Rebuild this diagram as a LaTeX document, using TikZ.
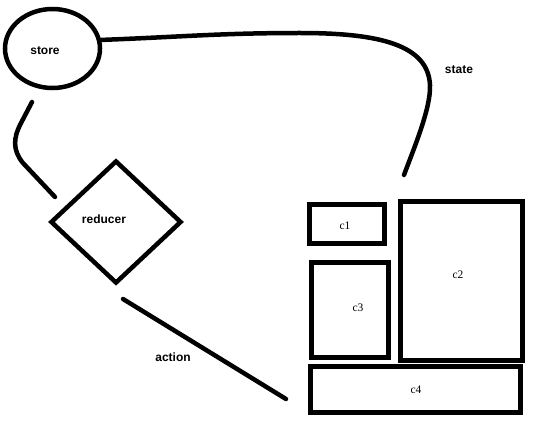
\documentclass[tikz,border=0pt]{standalone}
\usepackage{fontspec}
\setmainfont{Liberation Sans}
\newfontfamily\cfont{Liberation Serif}
\usetikzlibrary{shapes.geometric}
\tikzset{
  thick stroke/.style={line width=4.5pt},
  conn/.style={line width=4.5pt, line cap=round, line join=round},
  comp/.style={draw, line width=5pt, inner sep=0pt},
  lbl/.style={font=\bfseries\fontsize{12}{14}\selectfont, inner sep=0pt},
  clbl/.style={font=\cfont\fontsize{11.5}{13}\selectfont, inner sep=0pt},
}
\begin{document}
\begin{tikzpicture}[x=1pt,y=-1pt]
\useasboundingbox (0,0) rectangle (536,441);
% store
\node[ellipse, draw, thick stroke, minimum width=95pt, minimum height=79pt, inner sep=0pt] (store) at (52.5,48.5) {};
\node[lbl] (storet) at (45,51) {store};
% reducer
\node[diamond, draw, thick stroke, minimum width=131pt, minimum height=123pt, inner sep=0pt, aspect=1.06] (reducer) at (116,222) {};
\node[lbl] (reducert) at (104,219) {reducer};
% components
\draw[comp] (309.5,204.5) rectangle (384.5,243.5);
\node[clbl] (c1t) at (345,226) {c1};
\draw[comp] (400.5,201.5) rectangle (522.5,360.5);
\node[clbl] (c2t) at (458,275) {c2};
\draw[comp] (311.5,262.5) rectangle (388.5,357.5);
\node[clbl] (c3t) at (358,308) {c3};
\draw[comp] (310.5,366.5) rectangle (520.5,412.5);
\node[clbl] (c4t) at (416,390) {c4};
% connector end points
\coordinate (sA) at (32,102);
\coordinate (sB) at (55,197);
\coordinate (aA) at (123,299);
\coordinate (aB) at (286,399);
\coordinate (tB) at (404,175);
% connectors
\draw[conn] (store.10) .. controls (180,37) and (220,33) .. (300,33)
  .. controls (380,33) and (428,45) .. (430,85)
  .. controls (431,108) and (414,148) .. (tB);
\draw[conn] (sA) -- (20,125) .. controls (14,137) and (12,150) .. (23,163) -- (sB);
\draw[conn] (aA) -- (aB);
% labels
\node[lbl] (state) at (459,70) {state};
\node[lbl] (action) at (173,357) {action};
\end{tikzpicture}
\end{document}
